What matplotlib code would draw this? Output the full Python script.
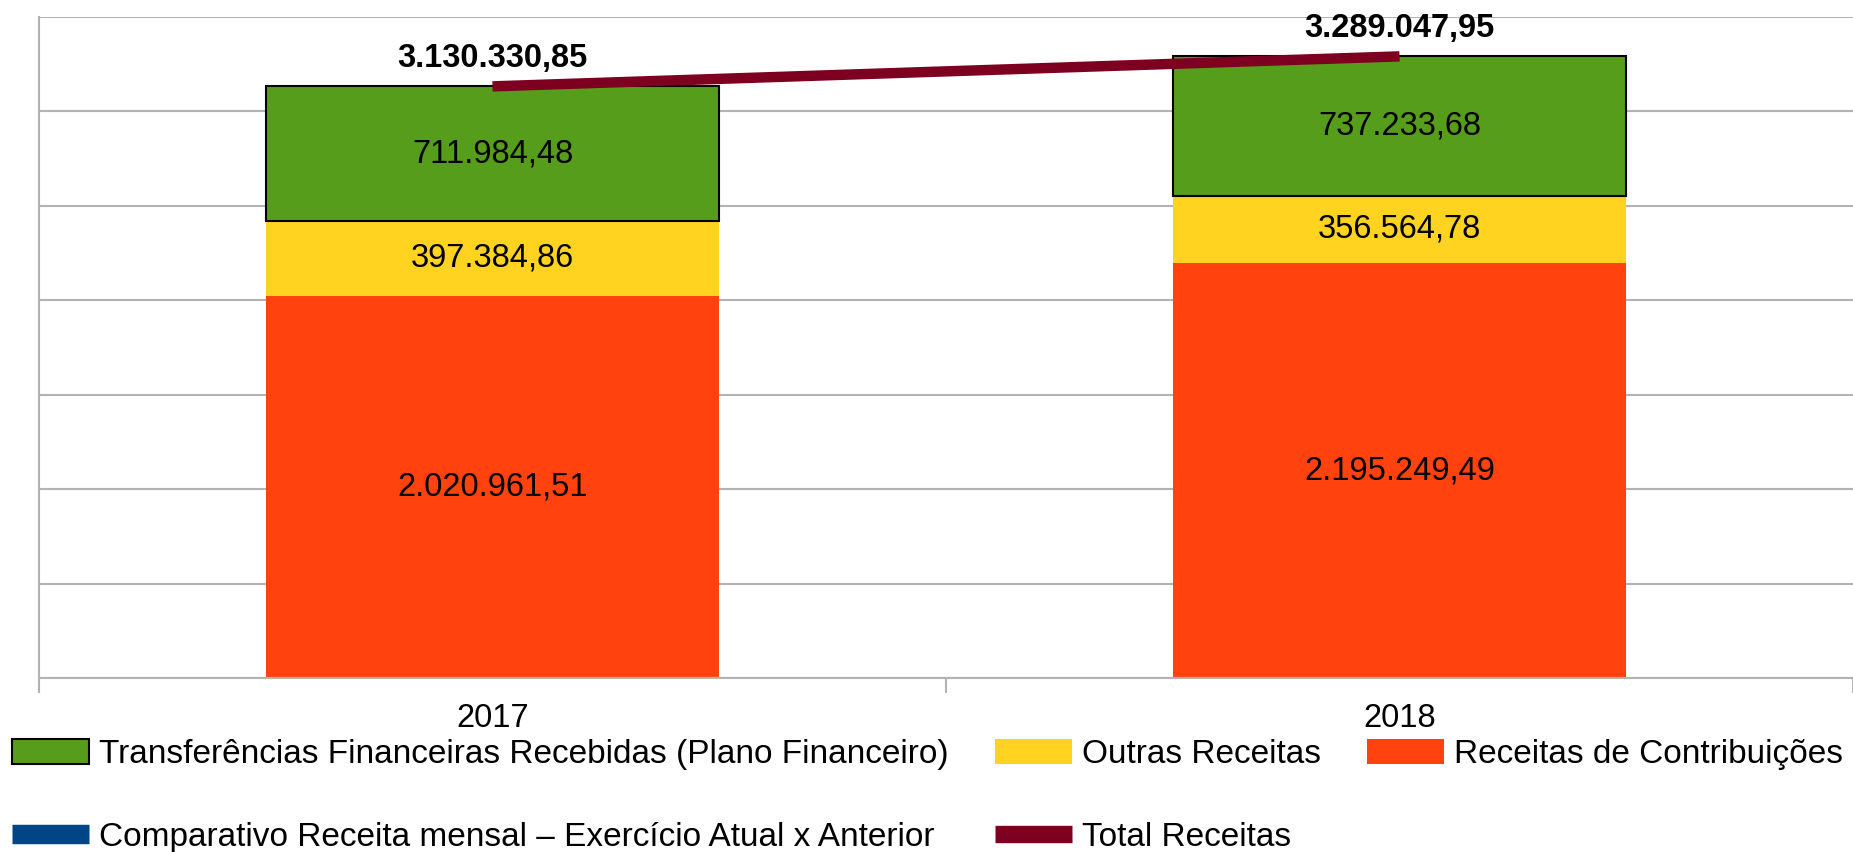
import matplotlib
matplotlib.use("Agg")
import matplotlib.pyplot as plt
from matplotlib.patches import Patch
from matplotlib.lines import Line2D

plt.rcParams['font.family'] = ['Liberation Sans', 'DejaVu Sans']

years = ['2017', '2018']
contribuicoes = [2020961.51, 2195249.49]
outras = [397384.86, 356564.78]
transferencias = [711984.48, 737233.68]
total = [3130330.85, 3289047.95]

c_green = '#579d1c'
c_yellow = '#ffd320'
c_orange = '#ff420e'
c_blue = '#004586'
c_red = '#7e0021'
c_grid = '#b3b3b3'


def br(v):
    s = f"{v:,.2f}"
    return s.replace(',', '#').replace('.', ',').replace('#', '.')


fig = plt.figure(figsize=(18.53, 8.52), dpi=100)
ax = fig.add_axes([39 / 1853, 1 - 678 / 852, 1 - 39 / 1853, (678 - 16.5) / 852])

x = [0, 1]
w = 0.5
fs = 23.5

b1 = ax.bar(x, contribuicoes, w, color=c_orange, zorder=2)
b2 = ax.bar(x, outras, w, bottom=contribuicoes, color=c_yellow, zorder=2)
bot3 = [a + b for a, b in zip(contribuicoes, outras)]
b3 = ax.bar(x, transferencias, w, bottom=bot3, color=c_green,
            edgecolor='black', linewidth=1.5, zorder=2)

ax.plot(x, total, color=c_red, lw=7.5, solid_capstyle='butt', zorder=4)

for bars, vals, bots in [(b1, contribuicoes, [0, 0]), (b2, outras, contribuicoes),
                         (b3, transferencias, bot3)]:
    for xi, v, b in zip(x, vals, bots):
        ax.text(xi, b + v / 2, br(v), ha='center', va='center', fontsize=fs,
                color='black', zorder=5)

for xi, v in zip(x, total):
    ax.annotate(br(v), (xi, v), xytext=(0, 20), textcoords='offset points',
                ha='center', va='center', fontsize=fs, fontweight='bold', zorder=5)

ax.set_xlim(-0.5, 1.5)
ax.set_ylim(0, 3500000)
ax.set_yticks([i * 500000 for i in range(8)])
ax.set_yticklabels([])
ax.tick_params(axis='y', length=0)
ax.grid(axis='y', color=c_grid, lw=1.5, zorder=0)
ax.set_axisbelow(True)

ax.set_xticks([-0.5, 0.5, 1.5])
ax.set_xticklabels([])
ax.set_xticks(x, minor=True)
ax.set_xticklabels(years, minor=True, fontsize=fs)
ax.tick_params(axis='x', which='major', length=11, width=1.5, color=c_grid)
ax.tick_params(axis='x', which='minor', length=0, pad=18)

for s in ['top', 'right']:
    ax.spines[s].set_visible(False)
for s in ['left', 'bottom']:
    ax.spines[s].set_color(c_grid)
    ax.spines[s].set_linewidth(1.5)

handles = [
    Patch(facecolor=c_green, edgecolor='black', linewidth=1.5),
    Line2D([], [], color=c_blue, lw=14, solid_capstyle='butt'),
    Patch(facecolor=c_yellow, edgecolor='none'),
    Line2D([], [], color=c_red, lw=12.5, solid_capstyle='butt'),
    Patch(facecolor=c_orange, edgecolor='none'),
]
labels = [
    'Transferências Financeiras Recebidas (Plano Financeiro)',
    'Comparativo Receita mensal – Exercício Atual x Anterior',
    'Outras Receitas',
    'Total Receitas',
    'Receitas de Contribuições',
]
fig.legend(handles, labels, ncol=3, loc='upper left',
           bbox_to_anchor=(12 / 1853, 1 - 739 / 852), frameon=False,
           fontsize=24, borderpad=0, borderaxespad=0, handlelength=2.3,
           handleheight=0.75, handletextpad=0.3, columnspacing=1.4,
           labelspacing=1.55)

fig.savefig('out.png', dpi=100)
